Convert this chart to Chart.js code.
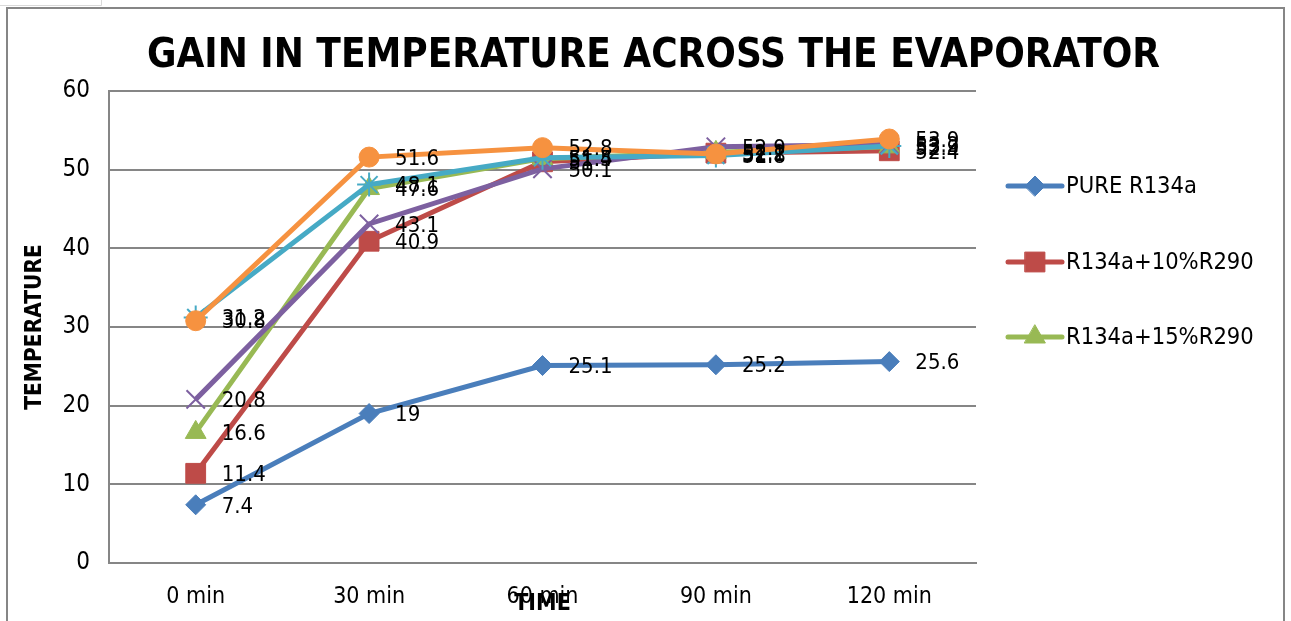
<!DOCTYPE html>
<html>
<head>
<meta charset="utf-8">
<script src="https://cdn.jsdelivr.net/npm/chart.js@4"></script>
<style>
  html, body { margin: 0; padding: 0; background: #fff; }
  #wrap { width: 1291px; height: 621px; position: relative; }
</style>
</head>
<body>
<div id="wrap"><canvas id="chart" width="1291" height="621"></canvas></div>
<script>
// 데이터
const timeLabels = ['0 min', '30 min', '60 min', '90 min', '120 min'];
const seriesNames = ['PURE R134a', 'R134a+10%R290', 'R134a+15%R290', 'R134a+20%R290', 'R134a+25%R290', 'R134a+30%R290'];
const pureR134a = [7.4, 19, 25.1, 25.2, 25.6];
const r290_10 = [11.4, 40.9, 51.0, 52.1, 52.4];
const r290_15 = [16.6, 47.6, 51.4, 52.2, 52.9];
const r290_20 = [20.8, 43.1, 50.1, 52.9, 53.2];
const r290_25 = [31.2, 48.1, 51.5, 51.8, 53.0];
const r290_30 = [30.8, 51.6, 52.8, 52.0, 53.9];
const yTicks = [0, 10, 20, 30, 40, 50, 60];

const FONT = "'Liberation Sans Narrow', 'Arial Narrow', 'DejaVu Sans Condensed', sans-serif";
const colors = ['#4A7EBB', '#BE4B48', '#98B954', '#7D60A0', '#46AAC5', '#F69240'];
const markers = ['rectRot', 'rect', 'triangle', 'crossRot', 'star', 'circle'];
const radii = [10, 14, 12, 13, 12, 10];
const values = [pureR134a, r290_10, r290_15, r290_20, r290_25, r290_30];

// 엑셀처럼 마지막 계열이 위에 그려지도록 order 지정
const datasets = values.map((d, i) => ({
  label: seriesNames[i],
  data: d,
  order: values.length - 1 - i,
  borderColor: colors[i],
  backgroundColor: colors[i],
  borderWidth: 5,
  pointStyle: markers[i],
  pointRadius: radii[i],
  pointBorderWidth: (markers[i] === 'crossRot' || markers[i] === 'star') ? 2 : 1,
  pointHoverRadius: radii[i],
  tension: 0
}));

// 배경 + 테두리
const framePlugin = {
  id: 'frame',
  beforeDraw(chart) {
    const ctx = chart.ctx;
    ctx.save();
    ctx.fillStyle = '#fff';
    ctx.fillRect(0, 0, chart.width, chart.height);
    ctx.strokeStyle = '#d9d9d9';
    ctx.lineWidth = 1;
    ctx.beginPath();
    ctx.moveTo(0, 5.5); ctx.lineTo(101.5, 5.5); ctx.lineTo(101.5, 0);
    ctx.stroke();
    ctx.strokeStyle = '#868686';
    ctx.lineWidth = 2;
    ctx.strokeRect(7, 8, 1277, 640);
    ctx.restore();
  }
};

// 데이터 라벨
const labelPlugin = {
  id: 'pointLabels',
  afterDatasetsDraw(chart) {
    const ctx = chart.ctx;
    ctx.save();
    ctx.font = '22px ' + FONT;
    ctx.fillStyle = '#000';
    ctx.textAlign = 'left';
    ctx.textBaseline = 'middle';
    chart.data.datasets.forEach((ds, i) => {
      chart.getDatasetMeta(i).data.forEach((pt, j) => {
        ctx.fillText(String(ds.data[j]), pt.x + 26, pt.y + 2);
      });
    });
    ctx.restore();
  }
};

// 범례 (처음 3개만 보임)
const legendPlugin = {
  id: 'sideLegend',
  afterDraw(chart) {
    const ctx = chart.ctx;
    const ys = [186, 262, 337];
    ctx.save();
    ys.forEach((y, i) => {
      const ds = chart.data.datasets[i];
      ctx.strokeStyle = ds.borderColor;
      ctx.fillStyle = ds.backgroundColor;
      ctx.lineWidth = 5;
      ctx.lineCap = 'round';
      ctx.beginPath();
      ctx.moveTo(1008, y); ctx.lineTo(1062, y);
      ctx.stroke();
      ctx.lineWidth = 1;
      Chart.helpers.drawPoint(ctx, { pointStyle: ds.pointStyle, radius: ds.pointRadius, rotation: 0, borderWidth: 1 }, 1035, y);
      ctx.fillStyle = '#000';
      ctx.font = '23.5px ' + FONT;
      ctx.textBaseline = 'middle';
      ctx.fillText(ds.label, 1066, y + 1);
    });
    ctx.restore();
  }
};

new Chart(document.getElementById('chart').getContext('2d'), {
  type: 'line',
  data: { labels: timeLabels, datasets: datasets },
  plugins: [framePlugin, labelPlugin, legendPlugin],
  options: {
    responsive: false,
    animation: false,
    layout: { padding: { left: 16, right: 0, top: 0, bottom: 0 } },
    plugins: {
      legend: { display: false },
      tooltip: { enabled: false },
      title: {
        display: true,
        text: 'GAIN IN TEMPERATURE ACROSS THE EVAPORATOR',
        color: '#000',
        font: { family: FONT, size: 40, weight: 'bold', lineHeight: 1.2 },
        padding: { top: 33, bottom: 10 }
      }
    },
    scales: {
      x: {
        offset: true,
        grid: { display: false, drawTicks: false },
        border: { display: true, color: '#868686', width: 2 },
        ticks: { color: '#000', padding: 20, font: { family: FONT, size: 23 } },
        title: {
          display: true, text: 'TIME', color: '#000',
          font: { family: FONT, size: 23, weight: 'bold' },
          padding: { top: 0, bottom: 3 }
        },
        afterFit: s => { s.height = 58; }
      },
      y: {
        min: 0, max: 60,
        afterBuildTicks: s => { s.ticks = yTicks.map(v => ({ value: v })); },
        grid: { color: '#868686', lineWidth: 2, drawTicks: false },
        border: { display: true, color: '#868686', width: 2 },
        ticks: { color: '#000', padding: 19, font: { family: FONT, size: 24 } },
        title: {
          display: true, text: 'TEMPERATURE', color: '#000',
          font: { family: FONT, size: 22.5, weight: 'bold' },
          padding: { top: 6, bottom: 0 }
        },
        afterFit: s => { s.width = 93; }
      },
      yr: {
        position: 'right',
        display: true,
        grid: { display: false, drawTicks: false },
        border: { display: false },
        ticks: { display: false },
        afterFit: s => { s.width = 315; }
      }
    }
  }
});
</script>
</body>
</html>
